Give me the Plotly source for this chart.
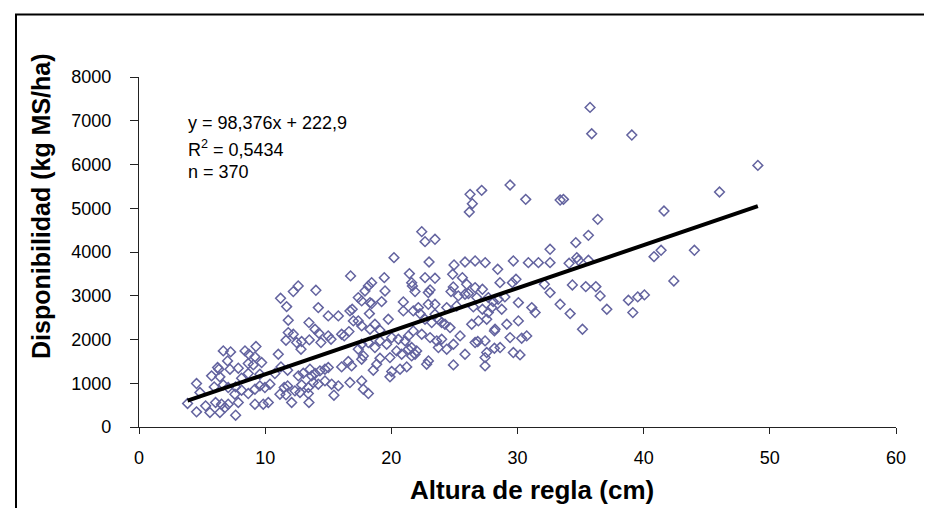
import plotly.graph_objects as go

# ---- data (x = Altura de regla, cm ; y = Disponibilidad, kg MS/ha)
points_left = [
    (11.22,2942),(11.70,2752),(12.23,3095),(12.62,3224),(14.02,3125),(14.21,2729),(11.83,2440),(13.47,2387),
    (15.00,2539),(15.80,2539),(16.72,2653),(16.90,2690),(11.83,2158),(12.23,2120),(11.65,1983),(12.49,1930),
    (12.84,1778),(12.89,1953),(13.50,1991),(13.95,2234),(14.26,2143),(15.00,2082),(15.22,2006),(14.42,1930),
    (16.06,2120),(16.27,2082),(16.64,2181),(16.99,2425),(11.04,1663),(6.68,1740),(7.26,1717),(7.02,1511),
    (8.40,1740),(8.71,1663),(9.27,1839),(9.19,1603),(6.23,1359),(6.33,1321),(5.75,1169),(6.41,1146),
    (7.21,1321),(7.87,1344),(8.66,1450),(9.06,1420),(9.72,1473),(9.58,1207),(8.13,1115),(8.66,1222),
    (10.77,1222),(11.25,1374),(11.78,1298),(12.63,1169),(13.02,1229),(13.55,1321),(13.68,1169),(13.95,1222),
    (14.34,1283),(14.74,1321),(15.00,1359),(16.06,1374),(16.59,1496),(16.85,1397),(4.56,993),(4.83,788),
    (3.85,537),(5.28,483),(5.62,331),(6.07,560),(6.54,521),(7.07,521),(6.41,331),(6.81,445),
    (4.56,346),(7.66,270),(5.96,917),(6.68,963),(7.07,902),(7.66,917),(8.13,841),(8.66,765),
    (9.19,864),(9.58,940),(9.98,902),(10.38,978),(7.60,750),(7.87,560),(9.19,521),(9.85,521),
    (10.25,560),(11.17,750),(11.65,735),(12.10,560),(11.78,940),(11.51,902),(12.36,826),(12.89,963),
    (13.42,902),(13.81,1016),(14.21,978),(14.74,1054),(12.76,788),(13.42,765),(13.47,560),(15.27,978),
    (15.80,940),(15.45,727),(16.72,1016),(16.77,3453),
]
points_mid = [
    (29.41,5531),(27.16,5409),(26.24,5318),(26.42,5104),(26.18,4914),(30.65,5203),(33.38,5188),(33.64,5203),
    (36.36,4747),(22.41,4465),(22.67,4237),(23.46,4290),(20.21,3871),(22.99,3772),(35.62,4381),(34.62,4214),
    (32.58,4062),(24.97,3704),(25.84,3772),(26.64,3795),(27.44,3757),(29.67,3795),(30.86,3757),(31.66,3757),
    (32.58,3757),(34.09,3742),(34.70,3871),(34.83,3810),(35.62,3810),(28.43,3605),(21.43,3506),(19.44,3414),
    (18.44,3300),(18.18,3224),(17.91,3110),(22.67,3414),(23.46,3399),(24.86,3490),(25.63,3414),(25.97,3262),
    (26.64,3186),(27.22,3148),(28.61,3300),(29.59,3300),(29.88,3376),(32.13,3262),(34.35,3247),(35.41,3209),
    (36.21,3209),(36.55,2996),(32.58,3072),(21.61,3300),(21.67,3224),(21.88,3095),(22.93,3072),(23.07,3133),
    (24.73,3095),(24.91,3201),(25.31,2996),(25.84,3034),(26.11,3049),(26.77,2958),(27.69,2958),(28.07,2866),
    (28.47,2920),(29.00,2973),(17.38,2958),(17.65,2882),(18.31,2843),(19.23,2866),(18.26,2592),(18.44,2821),
    (19.50,3110),(20.95,2859),(22.14,2729),(22.93,2805),(23.46,2805),(24.39,2729),(25.18,2767),(23.46,2577),
    (23.99,2387),(22.27,2592),(21.74,2653),(20.95,2653),(19.76,2463),(18.70,2349),(19.10,2212),(18.31,2234),
    (17.65,2311),(17.38,2425),(26.50,2745),(27.22,2691),(27.69,2615),(27.96,2729),(28.75,2691),(30.07,2843),
    (31.13,2729),(31.40,2615),(33.38,2805),(34.17,2592),(35.15,2234),(37.08,2691),(26.37,2349),(26.90,2425),
    (27.56,2463),(29.15,2349),(30.07,2425),(28.22,2234),(28.17,2196),(29.41,2044),(30.33,2029),(30.73,2082),
    (28.62,1816),(28.17,1800),(22.67,2463),(23.20,2387),(23.73,2463),(24.25,2349),(24.65,2272),(25.45,2082),
    (24.92,1892),(23.99,2006),(23.60,1968),(23.07,2044),(22.41,2120),(21.74,2196),(21.35,2082),(21.09,1968),
    (20.56,2006),(20.03,2044),(19.63,1892),(19.10,1968),(18.70,1816),(18.18,1930),(17.65,1892),(17.38,1778),
    (26.64,1930),(26.85,1953),(27.43,1968),(27.56,1702),(21.61,1816),(22.01,1740),(21.61,1625),(21.88,1663),
    (20.82,1663),(21.35,1778),(23.73,1816),(24.39,1778),(22.94,1511),(22.80,1435),(20.42,1740),(19.89,1587),
    (19.10,1572),(18.84,1435),(17.78,1625),(17.65,1549),(25.84,1663),(27.43,1587),(27.43,1397),(24.92,1420),
    (21.22,1374),(20.69,1321),(20.03,1268),(19.89,1146),(18.57,1298),(17.65,1054),(17.78,864),(18.18,765),
    (29.67,1702),(30.20,1648),
]
points_right = [
    (35.75,7305),(35.88,6703),(39.06,6673),(49.05,5980),(46.01,5371),(41.61,4937),(40.82,3894),(41.38,4039),
    (44.02,4039),(42.39,3338),(38.79,2897),(39.53,2973),(40.06,3019),(39.14,2615),
]

slope = 98.376
intercept = 222.9
r2_text = "0,5434"
n_text = "370"

x_ticks = [0, 10, 20, 30, 40, 50, 60]
y_ticks = [0, 1000, 2000, 3000, 4000, 5000, 6000, 7000, 8000]

pts = points_left + points_mid + points_right
xs = [p[0] for p in pts]
ys = [p[1] for p in pts]

x_line = [min(xs), max(xs)]
y_line = [slope * v + intercept for v in x_line]

fig = go.Figure()
fig.add_trace(go.Scatter(
    x=xs, y=ys, mode="markers",
    marker=dict(symbol="diamond-open", size=7.5, color="#63639f", line=dict(width=1.5, color="#63639f")),
    showlegend=False, hoverinfo="skip"))
fig.add_trace(go.Scatter(
    x=x_line, y=y_line, mode="lines",
    line=dict(color="black", width=4), showlegend=False, hoverinfo="skip"))

W, H = 932, 508
L, R, T, B = 131, 44, 69, 89
pw, ph = W - L - R, H - T - B

def px2paper_x(px):
    return (px - L) / pw

def py2paper_y(py):
    return (H - B - py) / ph

axis_common = dict(showgrid=False, zeroline=False, showline=True, linecolor="#222222", linewidth=1.2,
                   ticks="outside", tickcolor="#222222", tickwidth=1.2,
                   tickfont=dict(family="Liberation Sans, Arial, sans-serif", size=18, color="black"))

fig.update_layout(
    width=W, height=H,
    margin=dict(l=L, r=R, t=T, b=B, pad=0),
    paper_bgcolor="white", plot_bgcolor="white",
    xaxis=dict(range=[0, 60], tickvals=x_ticks, ticklen=6, ticklabelstandoff=8, **axis_common),
    yaxis=dict(range=[0, 8000], tickvals=y_ticks, ticklen=8, ticklabelstandoff=15, **axis_common),
    font=dict(family="Liberation Sans, Arial, sans-serif", color="black"),
)

ann_font = dict(family="Liberation Sans, Arial, sans-serif", size=18, color="black")
fig.add_annotation(text=f"y = {str(slope).replace('.', ',')}x + {str(intercept).replace('.', ',')}",
                   xref="paper", yref="paper", x=px2paper_x(178), y=py2paper_y(115),
                   xanchor="left", yanchor="middle", showarrow=False, font=ann_font)
fig.add_annotation(text=f"R<sup>2</sup> = {r2_text}",
                   xref="paper", yref="paper", x=px2paper_x(178), y=py2paper_y(140),
                   xanchor="left", yanchor="middle", showarrow=False, font=ann_font)
fig.add_annotation(text=f"n = {n_text}",
                   xref="paper", yref="paper", x=px2paper_x(178), y=py2paper_y(164),
                   xanchor="left", yanchor="middle", showarrow=False, font=ann_font)

title_font = dict(family="Liberation Sans, Arial, sans-serif", size=25, color="black")
fig.add_annotation(text="<b>Altura de regla (cm)</b>", xref="paper", yref="paper",
                   x=px2paper_x(524), y=py2paper_y(482), xanchor="center", yanchor="middle",
                   showarrow=False, font=dict(title_font, size=26))
fig.add_annotation(text="<b>Disponibilidad (kg MS/ha)</b>", xref="paper", yref="paper",
                   x=px2paper_x(33), y=py2paper_y(198), xanchor="center", yanchor="middle",
                   textangle=-90, showarrow=False, font=title_font)

# outer frame (left and top edges visible in the reference)
fig.add_shape(type="line", xref="paper", yref="paper",
              x0=px2paper_x(8), x1=px2paper_x(8), y0=py2paper_y(510), y1=py2paper_y(6.5),
              line=dict(color="black", width=2))
fig.add_shape(type="line", xref="paper", yref="paper",
              x0=px2paper_x(7), x1=px2paper_x(934), y0=py2paper_y(6.5), y1=py2paper_y(6.5),
              line=dict(color="black", width=2))

fig.write_html("out.html")
